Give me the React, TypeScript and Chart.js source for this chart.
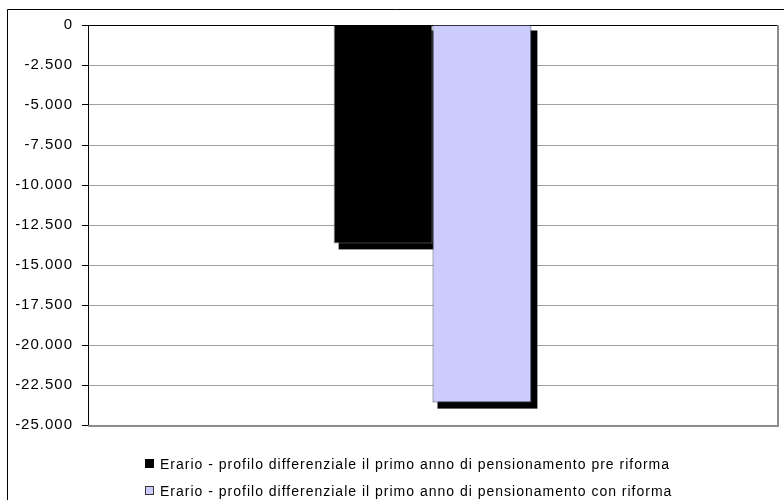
import React, { useEffect, useRef } from "react";
import { Chart, registerables } from "chart.js";

Chart.register(...registerables);

// Single category, two series (differential fiscal profile, first year of retirement)
const categories: string[] = [""];
const seriesLabels: string[] = [
  "Erario - profilo differenziale il primo anno di pensionamento pre riforma",
  "Erario - profilo differenziale il primo anno di pensionamento con riforma",
];
const preRiforma: number[] = [-13650];
const conRiforma: number[] = [-23600];
const seriesColors: string[] = ["#000000", "#CCCCFF"];
const seriesBorders: string[] = ["#7f7f7f", "#4d4d66"];
const yTickValues: number[] = [0, -2500, -5000, -7500, -10000, -12500, -15000, -17500, -20000, -22500, -25000];

const FONT = "'Liberation Sans', Arial, sans-serif";

// Italian-style thousands separator ("-12.500")
function formatIt(v: number): string {
  const neg = v < 0;
  const s = Math.round(Math.abs(v)).toString().replace(/\B(?=(\d{3})+(?!\d))/g, ".");
  return (neg ? "-" : "") + s;
}

// Offset drop shadows behind each bar
const barShadow = {
  id: "barShadow",
  beforeDatasetsDraw(chart: any) {
    const ctx = chart.ctx;
    ctx.save();
    ctx.fillStyle = "#000000";
    chart.data.datasets.forEach((_: any, i: number) => {
      const meta = chart.getDatasetMeta(i);
      meta.data.forEach((el: any) => {
        const p = el.getProps(["x", "y", "base", "width"], true);
        const left = p.x - p.width / 2;
        const top = Math.min(p.y, p.base);
        const h = Math.abs(p.base - p.y);
        ctx.fillRect(left + 5, top + 5, p.width + 1, h + 1);
      });
    });
    ctx.restore();
  },
};

// Outer frame, plot-area border and the stacked legend beneath the plot
const frameAndLegend = {
  id: "frameAndLegend",
  beforeDraw(chart: any) {
    const ctx = chart.ctx;
    ctx.save();
    ctx.fillStyle = "#ffffff";
    ctx.fillRect(0, 0, chart.width, chart.height);
    ctx.restore();
    (ctx as any).letterSpacing = "1px";
  },
  afterDraw(chart: any) {
    const ctx = chart.ctx;
    const a = chart.chartArea;
    ctx.save();
    (ctx as any).letterSpacing = "0px";

    // outer chart frame (extends past the viewport on the right and bottom)
    ctx.strokeStyle = "#000000";
    ctx.lineWidth = 1;
    ctx.beginPath();
    ctx.moveTo(7.5, chart.height);
    ctx.lineTo(7.5, 9.5);
    ctx.lineTo(chart.width, 9.5);
    ctx.stroke();

    // plot area right/bottom border
    ctx.strokeStyle = "#8c8c8c";
    ctx.lineWidth = 2;
    ctx.beginPath();
    ctx.moveTo(a.right + 1, a.top);
    ctx.lineTo(a.right + 1, a.bottom + 1);
    ctx.lineTo(a.left, a.bottom + 1);
    ctx.stroke();

    // legend
    const legendLeft = 145;
    const rows = [a.bottom + 39, a.bottom + 66];
    ctx.font = `14px ${FONT}`;
    (ctx as any).letterSpacing = "1px";
    ctx.textBaseline = "middle";
    ctx.textAlign = "left";
    chart.data.datasets.forEach((ds: any, i: number) => {
      const cy = rows[i];
      ctx.fillStyle = ds.backgroundColor;
      ctx.fillRect(legendLeft, cy - 5, 9, 9);
      ctx.strokeStyle = i === 0 ? "#000000" : "#333333";
      ctx.lineWidth = 1;
      ctx.strokeRect(legendLeft + 0.5, cy - 4.5, 8, 8);
      ctx.fillStyle = "#000000";
      ctx.fillText(ds.label, legendLeft + 15, cy + 1);
    });
    ctx.restore();
  },
};

export default function App() {
  const canvasRef = useRef<HTMLCanvasElement | null>(null);

  useEffect(() => {
    const canvas = canvasRef.current;
    if (!canvas) return;
    const chart = new Chart(canvas, {
      type: "bar",
      data: {
        labels: categories,
        datasets: [
          {
            label: seriesLabels[0],
            data: preRiforma,
            backgroundColor: seriesColors[0],
            borderColor: seriesBorders[0],
            borderWidth: 1,
          },
          {
            label: seriesLabels[1],
            data: conRiforma,
            backgroundColor: seriesColors[1],
            borderColor: seriesBorders[1],
            borderWidth: 1,
          },
        ],
      },
      options: {
        responsive: false,
        animation: false,
        devicePixelRatio: 1,
        layout: { padding: { top: 25, left: 0, right: 7, bottom: 75 } },
        datasets: { bar: { categoryPercentage: 0.287, barPercentage: 1 } },
        plugins: {
          legend: { display: false },
          tooltip: { enabled: false },
          title: { display: false },
        },
        scales: {
          x: { display: false, offset: true, grid: { display: false } },
          y: {
            min: -25000,
            max: 0,
            afterFit(scale: any) {
              scale.width = 88;
            },
            afterBuildTicks(scale: any) {
              scale.ticks = yTickValues.map((v) => ({ value: v }));
            },
            ticks: {
              color: "#000000",
              font: { family: FONT, size: 15 },
              padding: 9,
              callback: (v: any) => formatIt(Number(v)),
            },
            grid: {
              color: (c: any) => (c.tick && c.tick.value === 0 ? "#000000" : "#a0a0a0"),
              tickColor: "#000000",
              tickLength: 6,
              lineWidth: 1,
            },
            border: { color: "#000000", width: 1 },
          },
        },
      },
      plugins: [barShadow, frameAndLegend],
    });
    return () => chart.destroy();
  }, []);

  return (
    <div style={{ position: "fixed", left: 0, top: 0, width: 784, height: 500, background: "#fff" }}>
      <canvas ref={canvasRef} width={784} height={500} style={{ display: "block" }} />
    </div>
  );
}
